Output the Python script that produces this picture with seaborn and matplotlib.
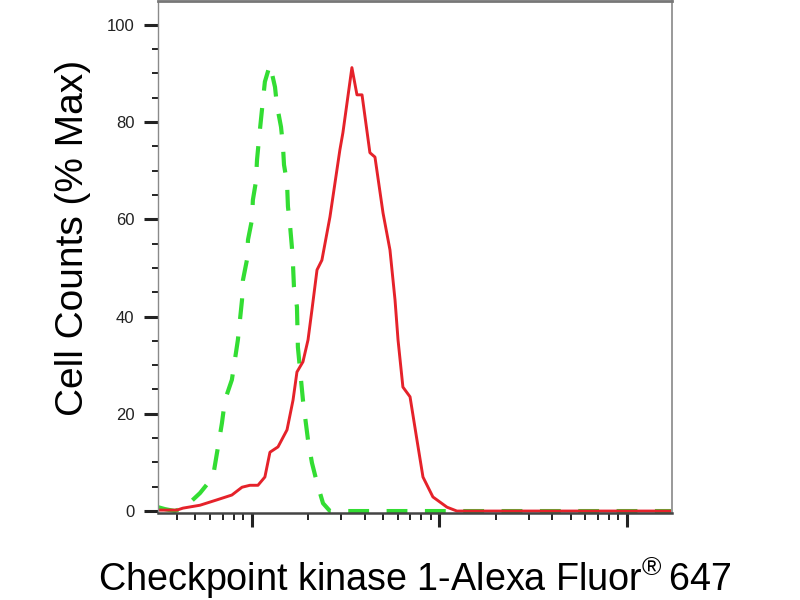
import numpy as np
import pandas as pd
import seaborn as sns
import matplotlib
matplotlib.use("Agg")
import matplotlib.pyplot as plt
from matplotlib.ticker import LogLocator, MultipleLocator, NullFormatter

# isotype control (green dashed), log10 of intensity vs % max
control_log = [2.499, 2.536, 2.589, 2.643, 2.723, 2.792, 2.819, 2.840, 2.856, 2.893,
               2.909, 2.925, 2.936, 2.947, 2.952, 2.973, 2.979, 3.000, 3.005, 3.021,
               3.027, 3.037, 3.048, 3.059, 3.069, 3.096, 3.123, 3.133, 3.155, 3.165,
               3.171, 3.187, 3.192, 3.203, 3.213, 3.219, 3.224, 3.240, 3.245, 3.272,
               3.299, 3.320, 3.347, 3.379, 3.416, 4.500, 5.240]
control_pct = [0.8, 0.4, 0.0, 0.8, 3.7, 7.0, 13.2, 18.1, 22.8, 27.0,
               31.1, 35.2, 39.3, 43.4, 47.5, 51.6, 55.8, 59.9, 64.0, 67.7,
               72.2, 76.3, 80.5, 84.6, 88.3, 91.8, 87.2, 83.5, 79.0, 75.3,
               71.2, 67.5, 62.6, 58.8, 54.3, 50.6, 46.1, 42.0, 33.7, 22.8,
               14.6, 9.9, 5.8, 1.6, 0.0, 0.0, 0.0]

# Chk1 stained sample (red solid)
sample_log = [2.499, 2.600, 2.632, 2.723, 2.813, 2.893, 2.947, 2.989, 3.032, 3.069,
              3.096, 3.139, 3.187, 3.219, 3.240, 3.272, 3.299, 3.320, 3.347, 3.373,
              3.416, 3.469, 3.485, 3.533, 3.560, 3.587, 3.629, 3.656, 3.699, 3.736,
              3.763, 3.779, 3.805, 3.843, 3.880, 3.912, 3.965, 4.040, 4.093, 4.700, 5.240]
sample_pct = [0.2, 0.2, 0.6, 1.2, 2.3, 3.3, 4.9, 5.3, 5.3, 7.0,
              12.1, 13.2, 16.7, 22.8, 28.6, 30.7, 35.2, 41.4, 49.6, 51.6,
              60.5, 74.3, 77.8, 91.2, 85.6, 85.6, 73.7, 72.8, 61.3, 53.7,
              43.4, 35.2, 25.5, 23.5, 14.6, 7.0, 2.9, 0.8, 0.0, 0.0, 0.0]

y_ticks = [0, 20, 40, 60, 80, 100]

control = pd.DataFrame({"x": np.power(10.0, control_log), "y": control_pct})
sample = pd.DataFrame({"x": np.power(10.0, sample_log), "y": sample_pct})

sns.set_style("white")
plt.rcParams["font.family"] = ["Liberation Sans", "DejaVu Sans"]
plt.rcParams["mathtext.fontset"] = "custom"
plt.rcParams["mathtext.rm"] = "Liberation Sans"

fig = plt.figure(figsize=(8, 6), dpi=100)
ax = fig.add_axes([158 / 800, 1 - 513 / 600, (672 - 158) / 800, 512 / 600])

sns.lineplot(data=control, x="x", y="y", ax=ax, color="#33dd33", lw=3.0,
             dashes=False, estimator=None, sort=False)
ax.lines[-1].set_dashes((5, 4.2))
ax.lines[-1].set_dash_capstyle("butt")
sns.lineplot(data=sample, x="x", y="y", ax=ax, color="#e5222a", lw=2.1,
             estimator=None, sort=False)

ax.set_xscale("log")
ax.set_xlim(10 ** 2.499, 10 ** 5.24)
ax.set_ylim(-0.4, 104.9)

ax.xaxis.set_major_locator(LogLocator(base=10, numticks=10))
ax.xaxis.set_minor_locator(LogLocator(base=10, subs=np.arange(2, 10), numticks=20))
ax.xaxis.set_major_formatter(NullFormatter())
ax.xaxis.set_minor_formatter(NullFormatter())
ax.set_yticks(y_ticks)
ax.set_yticklabels([str(v) for v in y_ticks], fontsize=12)
ax.yaxis.set_minor_locator(MultipleLocator(5))

ax.tick_params(which="major", direction="out", length=10, width=2.2, color="#222222", pad=7)
ax.tick_params(which="minor", direction="out", length=4.5, width=1.4, color="#222222")
ax.tick_params(axis="x", which="minor", length=5)
ax.tick_params(axis="y", which="major", labelcolor="#222222")
ax.tick_params(bottom=True, left=True, which="both")

ax.spines["left"].set_color("#8a8a8a")
ax.spines["left"].set_linewidth(1.0)
ax.spines["top"].set_color("#777777")
ax.spines["top"].set_linewidth(2.0)
ax.spines["right"].set_color("#999999")
ax.spines["right"].set_linewidth(1.4)
ax.spines["bottom"].set_color("#444444")
ax.spines["bottom"].set_linewidth(1.8)

ax.set_xlabel("")
ax.set_ylabel("")
fig.text(73 / 800, 1 - 238 / 600, "Cell Counts (% Max)", rotation=90,
         ha="center", va="center", fontsize=28, color="black")
fig.text(415 / 800, 1 - 578 / 600, r"Checkpoint kinase 1-Alexa Fluor$^{\mathrm{®}}\,$647",
         ha="center", va="center", fontsize=27.2, color="black")

fig.savefig("out.png", dpi=100)
